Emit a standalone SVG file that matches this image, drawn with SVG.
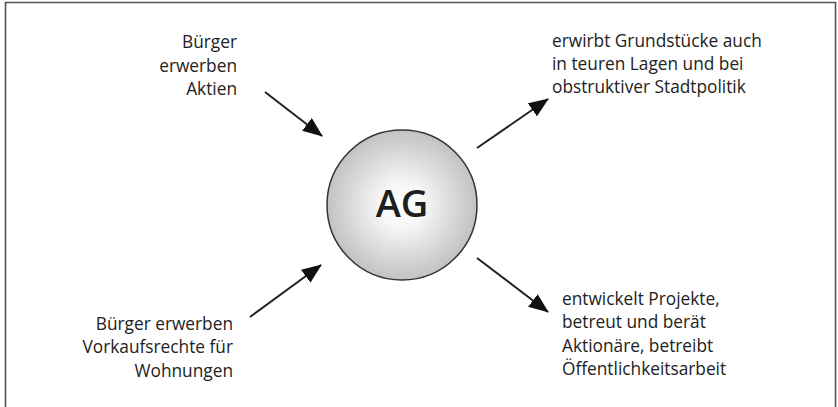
<svg xmlns="http://www.w3.org/2000/svg" width="838" height="407" viewBox="0 0 838 407">
  <style>
    .lbl { font-family: "Open Sans", "Noto Sans", "DejaVu Sans", sans-serif; font-size: 17.3px; fill: #222; }
    .end { text-anchor: end; }
    .conn { stroke: #222; stroke-width: 2; fill: none; marker-end: url(#head); }
  </style>
  <defs>
    <radialGradient id="ball" cx="0.5" cy="0.5" r="0.5">
      <stop offset="0" stop-color="#ffffff"/>
      <stop offset="0.3" stop-color="#f6f6f6"/>
      <stop offset="1" stop-color="#c2c2c2"/>
    </radialGradient>
    <marker id="head" viewBox="0 0 20 16" refX="19" refY="8" markerWidth="20" markerHeight="16" markerUnits="userSpaceOnUse" orient="auto">
      <path d="M0,0 L20,8 L0,16 Z" fill="#111"/>
    </marker>
  </defs>

  <!-- frame: top, left and right sides only -->
  <path d="M5.5,407 V2.5 H835.5 V407" fill="none" stroke="#555" stroke-width="1.6"/>

  <g id="connectors">
    <line x1="265" y1="92" x2="322" y2="136" class="conn"/>
    <line x1="477" y1="148" x2="548" y2="99" class="conn"/>
    <line x1="250" y1="317" x2="321" y2="265" class="conn"/>
    <line x1="477" y1="258" x2="548" y2="312" class="conn"/>
  </g>

  <g id="ag">
    <circle cx="402" cy="205" r="75" fill="url(#ball)" stroke="#333" stroke-width="1.5"/>
    <text x="402" y="217" text-anchor="middle" font-family="'Open Sans', 'Noto Sans', sans-serif" font-size="38" font-weight="600" fill="#1e1e1e">AG</text>
  </g>

  <g id="buerger-aktien">
    <text class="lbl end" x="237" y="48">Bürger</text>
    <text class="lbl end" x="237" y="72">erwerben</text>
    <text class="lbl end" x="237" y="95">Aktien</text>
  </g>

  <g id="grundstuecke">
    <text class="lbl" x="552" y="47">erwirbt Grundstücke auch</text>
    <text class="lbl" x="552" y="70">in teuren Lagen und bei</text>
    <text class="lbl" x="552" y="93">obstruktiver Stadtpolitik</text>
  </g>

  <g id="buerger-vorkauf">
    <text class="lbl end" x="233" y="330">Bürger erwerben</text>
    <text class="lbl end" x="233" y="353">Vorkaufsrechte für</text>
    <text class="lbl end" x="233" y="377">Wohnungen</text>
  </g>

  <g id="projekte">
    <text class="lbl" x="562" y="305">entwickelt Projekte,</text>
    <text class="lbl" x="562" y="328">betreut und berät</text>
    <text class="lbl" x="562" y="352">Aktionäre, betreibt</text>
    <text class="lbl" x="562" y="375">Öffentlichkeitsarbeit</text>
  </g>
</svg>
